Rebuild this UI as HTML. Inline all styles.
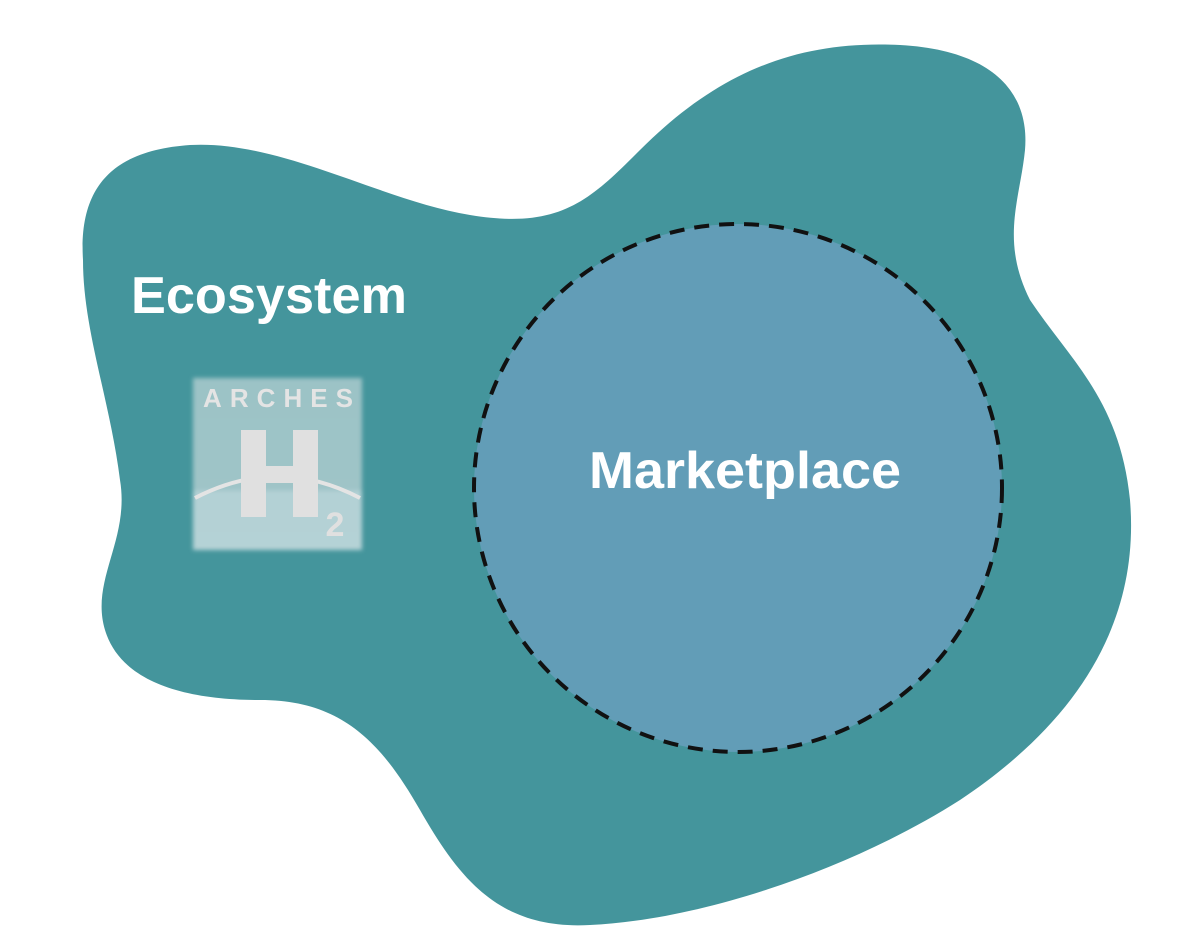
<!DOCTYPE html>
<html><head><meta charset="utf-8"><style>
html,body{margin:0;padding:0;background:#fff;}
svg{display:block}
</style></head><body>
<svg width="1200" height="950" viewBox="0 0 1200 950" xmlns="http://www.w3.org/2000/svg">
<defs>
<linearGradient id="lg" x1="0" y1="0" x2="0" y2="1">
<stop offset="0" stop-color="#9cc3c6"/><stop offset="0.65" stop-color="#9fc4c7"/><stop offset="0.66" stop-color="#b3d1d5"/><stop offset="1" stop-color="#b5d2d6"/>
</linearGradient>
<filter id="bl"><feGaussianBlur stdDeviation="2"/></filter>
</defs>
<path fill="#44959c" d="M 83,260 C 78,180 120,150 190,145 C 280,140 380,200 470,215 C 560,230 590,200 640,150 C 720,70 800,40 900,45 C 990,50 1030,90 1025,150 C 1020,200 1000,240 1030,300 C 1070,360 1120,400 1130,500 C 1140,620 1080,720 960,800 C 850,870 700,920 590,925 C 500,930 460,880 420,810 C 380,740 340,700 260,700 C 180,700 120,680 105,630 C 90,580 130,540 120,480 C 110,400 83,330 83,260 Z"/>
<circle cx="738" cy="488" r="264" fill="#629db7" stroke="#111" stroke-width="4" stroke-dasharray="15 10"/>
<text x="269" y="313" text-anchor="middle" font-family="Liberation Sans, sans-serif" font-size="52" font-weight="bold" fill="#fff" textLength="276" lengthAdjust="spacingAndGlyphs">Ecosystem</text>
<text x="745" y="488" text-anchor="middle" font-family="Liberation Sans, sans-serif" font-size="52" font-weight="bold" fill="#fff" textLength="312" lengthAdjust="spacingAndGlyphs">Marketplace</text>
<g>
<rect x="193" y="378" width="169" height="172" fill="url(#lg)" filter="url(#bl)"/>
<text x="278" y="407" text-anchor="middle" font-family="Liberation Sans, sans-serif" font-size="26" font-weight="bold" fill="#e4e4e4" textLength="150" lengthAdjust="spacing">ARCHES</text>
<path d="M195,498 Q278,455 360,498" fill="none" stroke="#e4e4e4" stroke-width="4"/>
<rect x="241" y="430" width="25" height="87" fill="#e0e0e0"/>
<rect x="293" y="430" width="25" height="87" fill="#e0e0e0"/>
<rect x="241" y="466" width="77" height="17" fill="#e0e0e0"/>
<text x="335" y="536" text-anchor="middle" font-family="Liberation Sans, sans-serif" font-size="34" font-weight="bold" fill="#e0e0e0">2</text>
</g>
</svg>
</body></html>
